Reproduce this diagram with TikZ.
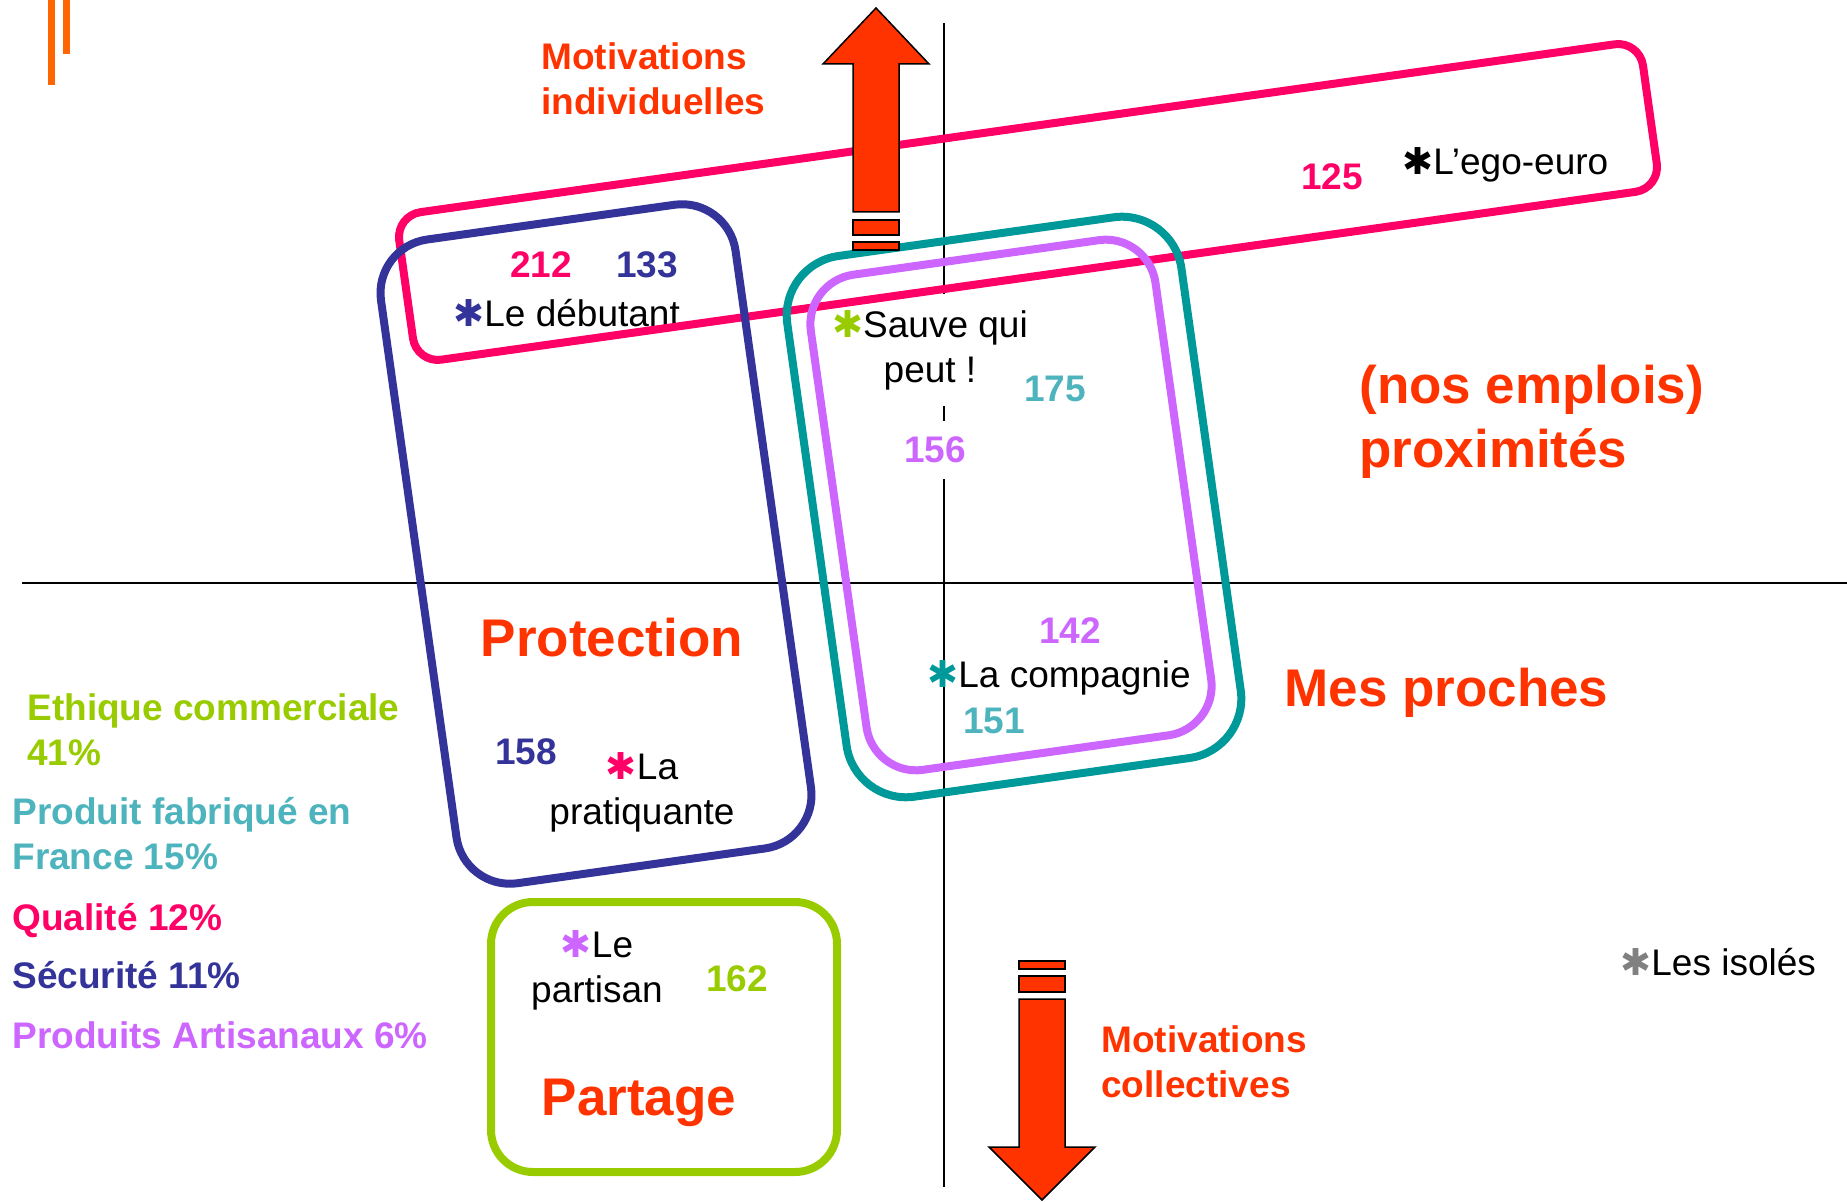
\documentclass[tikz,border=0pt]{standalone}
\usepackage{fontspec}
\setmainfont{Liberation Sans}
\newfontfamily\dejavu{DejaVu Sans}
\definecolor{rouge}{HTML}{FF3300}
\definecolor{rose}{HTML}{FF0066}
\definecolor{marine}{HTML}{333399}
\definecolor{canard}{HTML}{009999}
\definecolor{turquoise}{HTML}{4DB3BD}
\definecolor{mauve}{HTML}{CC66FF}
\definecolor{anis}{HTML}{99CC00}
\definecolor{filet}{HTML}{FF6600}
\definecolor{gris}{HTML}{808080}
\newcommand{\etoile}[1]{{\dejavu\color{#1}\char"2731}}
\tikzset{
  groupe/.style={draw, line width=4pt, rounded corners=#1, inner sep=0pt},
  txt/.style={font=\fontsize{18.5}{22.5}\selectfont, inner sep=0pt, align=center},
  num/.style={font=\fontsize{18.5}{22.5}\selectfont\bfseries, inner sep=0pt},
  legende/.style={font=\fontsize{18.5}{22.5}\selectfont\bfseries, inner sep=0pt, align=left},
  titre/.style={font=\fontsize{26.5}{32}\selectfont\bfseries, text=rouge, inner sep=0pt, align=left},
  cache/.style={fill=white, inner sep=8pt},
  fleche/.style={fill=rouge, draw=black, line width=0.75pt}
}
\begin{document}
\begin{tikzpicture}[x=0.5pt, y=-0.5pt]
      \useasboundingbox (0,0) rectangle (1847,1202);
      \fill[filet] (48,0) rectangle (55,85);
      \fill[filet] (63,0) rectangle (70,54);
      \draw[line width=1pt] (22,583) -- (1847,583);
      \draw[line width=1pt] (944,23) -- (944,1187);
      \node[legende, text=rouge, anchor=west] (motivind) at (541,79) {Motivations\\individuelles};
      \node[legende, text=rouge, anchor=west] (motivcol) at (1101,1062) {Motivations\\collectives};
      \node[legende, text=anis, anchor=west] (ethique) at (27,730) {Ethique commerciale\\41\%};
      \node[legende, text=turquoise, anchor=west] (fabrique) at (12,834) {Produit fabriqué en\\France 15\%};
      \node[legende, text=rose, anchor=base west] (qualite) at (12,930) {Qualité 12\%};
      \node[legende, text=marine, anchor=base west] (securite) at (12,988) {Sécurité 11\%};
      \node[legende, text=mauve, anchor=base west] (artisanaux) at (12,1048) {Produits Artisanaux 6\%};
      \node[titre, anchor=base] (protection) at (612,657) {Protection};
      \node[titre, anchor=base] (partage) at (639,1115) {Partage};
      \node[titre, anchor=base west] (proches) at (1284,707) {Mes proches};
      \node[titre, anchor=west] (emplois) at (1359,422) {(nos emplois)\\proximités};
      \node[txt, anchor=base west] (debutant) at (453,327) {\etoile{marine}Le débutant};
      \node[txt, anchor=base west] (ego) at (1402,175) {\etoile{black}L’ego-euro};
      \node[txt, cache] (sauve) at (930,350) {\etoile{anis}Sauve qui\\peut !};
      \node[txt, anchor=base west] (compagnie) at (927,688) {\etoile{canard}La compagnie};
      \node[txt] (pratiquante) at (642,792) {\etoile{rose}La\\pratiquante};
      \node[txt] (partisan) at (597,970) {\etoile{mauve}Le\\partisan};
      \node[txt, anchor=base west] (isoles) at (1620,975) {\etoile{gris}Les isolés};
      \node[num, text=rose] (n212) at (541,265) {212};
      \node[num, text=marine] (n133) at (647,265) {133};
      \node[num, text=rose] (n125) at (1332,177) {125};
      \node[num, text=turquoise] (n175) at (1055,389) {175};
      \node[num, text=mauve, cache] (n156) at (935,450) {156};
      \node[num, text=mauve] (n142) at (1070,631) {142};
      \node[num, text=turquoise] (n151) at (994,721) {151};
      \node[num, text=marine] (n158) at (526,752) {158};
      \node[num, text=anis] (n162) at (737,979) {162};
      \node[groupe=12.5pt, draw=rose, rotate=8, minimum width=628pt, minimum height=74.5pt] (qualiteg) at (1028,202) {};
      \node[groupe=27pt, draw=marine, rotate=8, minimum width=179pt, minimum height=325pt] (securiteg) at (596,544) {};
      \node[groupe=30pt, draw=canard, rotate=8, minimum width=199pt, minimum height=273pt] (fabriqueg) at (1014,507) {};
      \node[groupe=25pt, draw=mauve, rotate=8, minimum width=174pt, minimum height=250pt] (artisanauxg) at (1011,505) {};
      \node[groupe=21pt, draw=anis, minimum width=173pt, minimum height=135pt] (ethiqueg) at (664,1037) {};
      \draw[fleche] (876,8) -- (929,64) -- (899,64) -- (899,212) -- (853,212) -- (853,64) -- (823,64) -- cycle;
      \draw[fleche] (853,220) rectangle (899,235);
      \draw[fleche] (853,242) rectangle (899,250);
      \draw[fleche] (1019,961) rectangle (1065,969);
      \draw[fleche] (1019,976) rectangle (1065,992);
      \draw[fleche] (1019,999) -- (1065,999) -- (1065,1147) -- (1095,1147) -- (1042,1200) -- (989,1147) -- (1019,1147) -- cycle;
    \end{tikzpicture}
\end{document}
